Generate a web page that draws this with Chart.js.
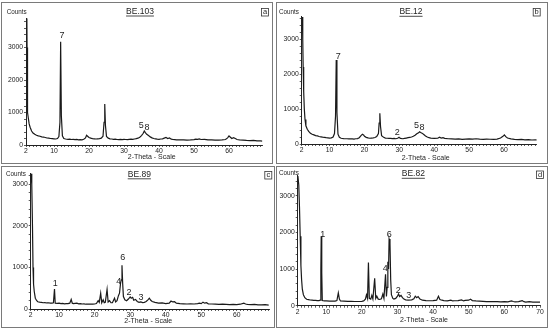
<!DOCTYPE html>
<html><head><meta charset="utf-8">
<script src="https://cdn.jsdelivr.net/npm/chart.js@4.4.1/dist/chart.umd.min.js"></script>
<style>
html,body{margin:0;padding:0;background:#fff;width:550px;height:330px;overflow:hidden}
canvas{position:absolute}
</style></head><body>
<canvas id="ca"></canvas><canvas id="cb"></canvas><canvas id="cc"></canvas><canvas id="cd"></canvas>
<script>
// ---------- data ----------
const titles = ['BE.103', 'BE.12', 'BE.89', 'BE.82'];
const letters = ['a', 'b', 'c', 'd'];
const xTickLabels = [2, 10, 20, 30, 40, 50, 60, 70];
const yTickLabels = [0, 1000, 2000, 3000];
const xAxisTitle = '2-Theta - Scale';
const yAxisTitle = 'Counts';

const aX = [2.25,2.3,2.36,2.43,2.52,2.7,2.9,3.2,3.6,4,4.5,5,5.5,6,6.5,7,7.5,8,8.5,9,9.5,10,10.5,11,11.4,11.7,11.9,12.1,12.4,12.8,13.3,14,14.5,15,15.5,16,16.5,17,17.5,18,18.5,19,19.3,19.6,20,20.5,21,21.5,22,22.5,23,23.5,24,24.3,24.5,24.7,25,25.5,26,26.5,27,27.5,28,28.5,29,29.5,30,30.5,31,31.5,32,32.5,33,33.5,34,34.5,35,35.5,35.8,36.1,36.5,37,37.5,38,38.5,39,39.5,40,40.5,41,41.5,42,42.5,43,43.5,44,44.5,45,46,47,48,49,50,50.5,51,51.5,52,53,54,55,56,57,58,59,59.6,60,60.4,60.8,61.3,61.8,62.3,63,64,65,66,67,68,69,69.5];
const aY = [3900,3000,2000,1350,1000,800,650,540,430,370,330,300,280,270,250,245,230,215,210,200,195,190,185,200,260,700,3180,900,280,200,185,175,180,170,175,165,170,160,165,160,175,220,300,270,230,210,195,190,185,190,195,210,270,700,1260,600,260,210,190,185,175,180,170,165,170,165,175,170,165,175,180,175,185,195,210,240,290,360,430,380,330,290,250,220,200,190,180,175,185,190,210,230,200,215,180,170,165,160,155,160,150,155,165,180,175,185,170,175,160,155,150,150,155,170,220,280,240,200,225,200,170,160,150,140,135,140,125,125,120];

const bX = [2.22,2.3,2.42,2.57,2.75,2.95,3.2,3.6,4,4.5,5,5.5,6,6.5,7,7.5,8,8.5,9,9.5,10,10.5,11,11.4,11.7,11.9,12.1,12.4,12.8,13.3,14,14.5,15,15.5,16,16.5,17,17.5,18,18.5,19,19.4,19.8,20,20.5,21,21.5,22,22.5,23,23.5,24,24.2,24.4,24.6,24.9,25.5,26,26.5,27,27.5,28,28.5,29,29.5,29.9,30.3,31,31.5,32,32.5,33,33.5,34,34.5,35,35.5,35.8,36.1,36.5,37,37.5,38,38.5,39,40,41,41.5,42,42.5,43,44,45,46,47,48,49,50,51,52,53,54,55,56,57,58,59,59.7,60.1,60.5,61,62,63,64,65,66,67,68,69,69.4];
const bY = [3630,3000,2200,1500,1000,700,520,420,360,310,280,260,240,230,215,205,195,190,180,175,170,175,200,300,800,2400,900,280,190,165,155,150,150,145,150,145,140,150,155,180,240,280,250,220,190,175,165,170,175,185,210,300,600,880,500,240,190,170,165,160,160,155,160,150,165,190,160,150,160,170,180,190,200,220,250,290,320,350,330,310,270,230,200,180,170,160,165,195,170,180,160,150,145,140,145,135,140,145,140,150,140,135,140,135,130,140,170,220,260,210,170,145,130,125,130,120,125,115,120,115];

const cX = [2.1,2.3,2.5,2.65,2.8,3,3.3,3.7,4,4.5,5,5.5,6,6.5,7,7.5,8,8.4,8.7,8.9,9.5,10,10.5,11,11.5,12,12.5,13,13.4,13.7,14,14.5,15,15.5,16,16.5,17,17.5,18,18.5,19,19.5,20,20.5,21,21.3,21.7,22,22.4,22.7,23,23.5,23.8,24.2,24.6,25,25.6,25.9,26.3,26.7,27,27.3,27.5,27.7,27.9,28.1,28.5,29,29.5,30,30.3,30.7,31,31.5,32,32.5,33,33.5,34,34.5,35,35.4,35.8,36.2,37,38,39,40,41,41.5,42,42.5,43,44,45,46,47,48,49,49.5,50,50.5,51,51.5,52,53,54,55,56,57,58,59,60,61,62,62.5,63,64,65,66,67,68,69];
const cY = [3260,3000,2000,1000,600,420,260,200,175,165,160,150,155,145,150,140,140,150,480,140,135,140,130,135,125,130,130,140,230,140,130,135,140,125,130,120,125,115,120,115,120,115,120,130,200,160,380,150,220,150,160,470,170,200,150,150,260,170,200,320,380,620,700,1050,600,300,220,200,240,290,260,280,210,230,180,160,170,155,160,180,220,260,210,180,160,140,145,130,140,190,170,175,140,130,125,120,125,120,130,140,130,165,140,150,125,120,115,110,115,110,105,110,105,115,140,120,110,105,110,100,100,105,95];

const dX = [2.05,2.3,2.5,2.7,2.9,3.1,3.3,3.6,4,4.5,5,5.5,6,6.5,7,7.5,8,8.3,8.5,8.6,8.75,8.9,9.5,10,11,12,12.5,13,13.4,13.7,14,15,16,17,18,19,20,20.5,21,21.3,21.6,21.85,22.1,22.5,22.8,23.1,23.6,23.9,24.2,24.6,25,25.5,25.9,26.2,26.65,26.9,27.1,27.3,27.5,27.65,27.9,28.1,28.3,28.7,29,29.5,30,30.3,30.6,31,31.4,31.8,32.3,33,34,34.6,35,35.4,35.8,36.3,37,38,39,40,41,41.5,41.9,42.5,43,44,45,45.5,46,47,48,48.5,49,50,50.5,51,52,53,54,55,56,57,58,59,60,61,62,62.5,63,64,65,65.5,66,67,68,69,70];
const dY = [3550,3300,2700,1900,1100,700,450,300,220,175,165,155,150,145,145,140,140,150,1000,1900,900,140,130,130,125,125,125,140,350,180,130,125,120,120,115,115,120,130,180,300,200,1180,200,180,280,180,750,200,260,180,170,190,320,200,860,250,500,1200,1000,1820,1700,700,300,200,180,200,260,320,250,280,220,180,160,150,160,190,260,220,250,180,150,140,135,140,150,260,170,150,140,130,150,130,135,140,160,130,145,150,180,140,130,125,120,110,115,110,110,105,110,105,130,115,105,110,140,110,100,110,100,95,95];

// peak labels: [text, 2-theta, counts]
const aPeaks = [['7', 12.3, 3385], ['5', 34.9, 585], ['8', 36.6, 530]];
const bPeaks = [['7', 12.5, 2500], ['2', 29.4, 334], ['5', 34.9, 514], ['8', 36.5, 477]];
const cPeaks = [['1', 8.9, 618], ['6', 27.9, 1233], ['4', 26.8, 656], ['2', 29.7, 400], ['3', 33.05, 281]];
const dPeaks = [['1', 9.0, 1932], ['6', 27.7, 1950], ['4', 26.6, 1003], ['2', 30.2, 410], ['3', 33.2, 265]];

// ---------- layout (positions/sizes only) ----------
const layouts = [
  {id:'ca', left:1, top:2, w:272, h:162, yW:25, padTop:16.3, xH:19, padRight:10.4, xMax:69.6, yMax:3900,
   title:[139,9.7], counts:[5.7,10.7], box:[260,6], xt:[150.7,154.7]},
  {id:'cb', left:276, top:2, w:272, h:162, yW:25.7, padTop:14.25, xH:20, padRight:11.2, xMax:69.4, yMax:3650,
   title:[135,10], counts:[3,10], box:[256.7,6], xt:[149.7,156]},
  {id:'cc', left:1, top:166, w:274, h:162, yW:29.7, padTop:7.4, xH:19, padRight:5.6, xMax:69.2, yMax:3260,
   title:[138.3,8.5], counts:[5,8.3], box:[263.3,5], xt:[147.3,154.7]},
  {id:'cd', left:276, top:166, w:272, h:162, yW:21.7, padTop:9.8, xH:22.3, padRight:8, xMax:70, yMax:3550,
   title:[137.3,8], counts:[3,7.3], box:[260,4.5], xt:[148,154.3]}
];
const series = [[aX,aY],[bX,bY],[cX,cY],[dX,dY]];
const peaks = [aPeaks,bPeaks,cPeaks,dPeaks];

const FONT = 'Arial, "Liberation Sans", sans-serif';
const INK = '#1e1e1e';

function panelPlugin(i){
  const L = layouts[i];
  return {
    id:'panelDeco'+i,
    afterDraw(chart){
      const ctx = chart.ctx;
      ctx.save();
      ctx.strokeStyle = '#7a7a7a'; ctx.lineWidth = 1;
      ctx.strokeRect(0.5, 0.5, chart.width-1, chart.height-1);
      ctx.fillStyle = INK;
      ctx.font = '8.5px ' + FONT;
      ctx.textAlign = 'center'; ctx.textBaseline = 'middle';
      ctx.fillText(titles[i], L.title[0], L.title[1]);
      const tw = ctx.measureText(titles[i]).width;
      ctx.strokeStyle = INK; ctx.lineWidth = 0.8;
      ctx.beginPath(); ctx.moveTo(L.title[0]-tw/2, L.title[1]+4.3); ctx.lineTo(L.title[0]+tw/2, L.title[1]+4.3); ctx.stroke();
      ctx.font = '6.3px ' + FONT; ctx.textAlign = 'left';
      ctx.fillText(yAxisTitle, L.counts[0], L.counts[1]);
      ctx.strokeStyle = '#333'; ctx.lineWidth = 0.8;
      ctx.strokeRect(L.box[0]+0.5, L.box[1]+0.5, 7, 7.5);
      ctx.font = '7.5px ' + FONT; ctx.textAlign = 'center';
      ctx.fillText(letters[i], L.box[0]+4, L.box[1]+4.2);
      ctx.font = '7px ' + FONT;
      ctx.fillText(xAxisTitle, L.xt[0], L.xt[1]);
      const xs = chart.scales.x, ys = chart.scales.y;
      ctx.font = '9px ' + FONT;
      peaks[i].forEach(p => {
        ctx.fillText(p[0], xs.getPixelForValue(p[1]), ys.getPixelForValue(p[2]));
      });
      ctx.restore();
    }
  };
}

layouts.forEach((L, i) => {
  const cv = document.getElementById(L.id);
  cv.width = L.w; cv.height = L.h;
  cv.style.left = L.left + 'px'; cv.style.top = L.top + 'px';
  cv.style.width = L.w + 'px'; cv.style.height = L.h + 'px';
  const [xs, ys] = series[i];
  const pts = xs.map((x, k) => ({x: x, y: ys[k]}));
  const major = xTickLabels.filter(v => v <= L.xMax);
  new Chart(cv.getContext('2d'), {
    type: 'line',
    data: { datasets: [{ data: pts, borderColor: '#1a1a1a', borderWidth: 1.2, pointRadius: 0, tension: 0, fill: false }] },
    plugins: [panelPlugin(i)],
    options: {
      responsive: false, animation: false, devicePixelRatio: 1,
      layout: { padding: { left: 0, top: L.padTop, right: L.padRight, bottom: 0 } },
      plugins: { legend: { display: false }, tooltip: { enabled: false } },
      scales: {
        x: {
          type: 'linear', min: 2, max: L.xMax,
          afterFit: s => { s.height = L.xH; },
          afterBuildTicks: s => {
            const t = [];
            for (let v = 2; v <= L.xMax + 1e-9; v += 1) t.push({value: v});
            s.ticks = t;
          },
          ticks: { autoSkip: false, maxRotation: 0, minRotation: 0, padding: 0.5, color: '#222',
                   font: { size: 6.8, family: FONT },
                   callback: v => major.includes(v) ? String(v) : '' },
          grid: { drawOnChartArea: false, drawTicks: true, tickLength: 2, color: '#333', lineWidth: 0.8 },
          border: { display: true, color: '#222', width: 1 }
        },
        y: {
          type: 'linear', min: 0, max: L.yMax,
          afterFit: s => { s.width = L.yW; },
          afterBuildTicks: s => {
            const t = [];
            for (let v = 0; v <= L.yMax; v += 200) t.push({value: v});
            s.ticks = t;
          },
          ticks: { autoSkip: false, padding: 1, color: '#222',
                   font: { size: 6.8, family: FONT },
                   callback: v => yTickLabels.includes(v) ? String(v) : '' },
          grid: { drawOnChartArea: false, drawTicks: true, tickLength: 2, color: '#333', lineWidth: 0.8 },
          border: { display: true, color: '#222', width: 1 }
        }
      }
    }
  });
});
</script>
</body></html>
